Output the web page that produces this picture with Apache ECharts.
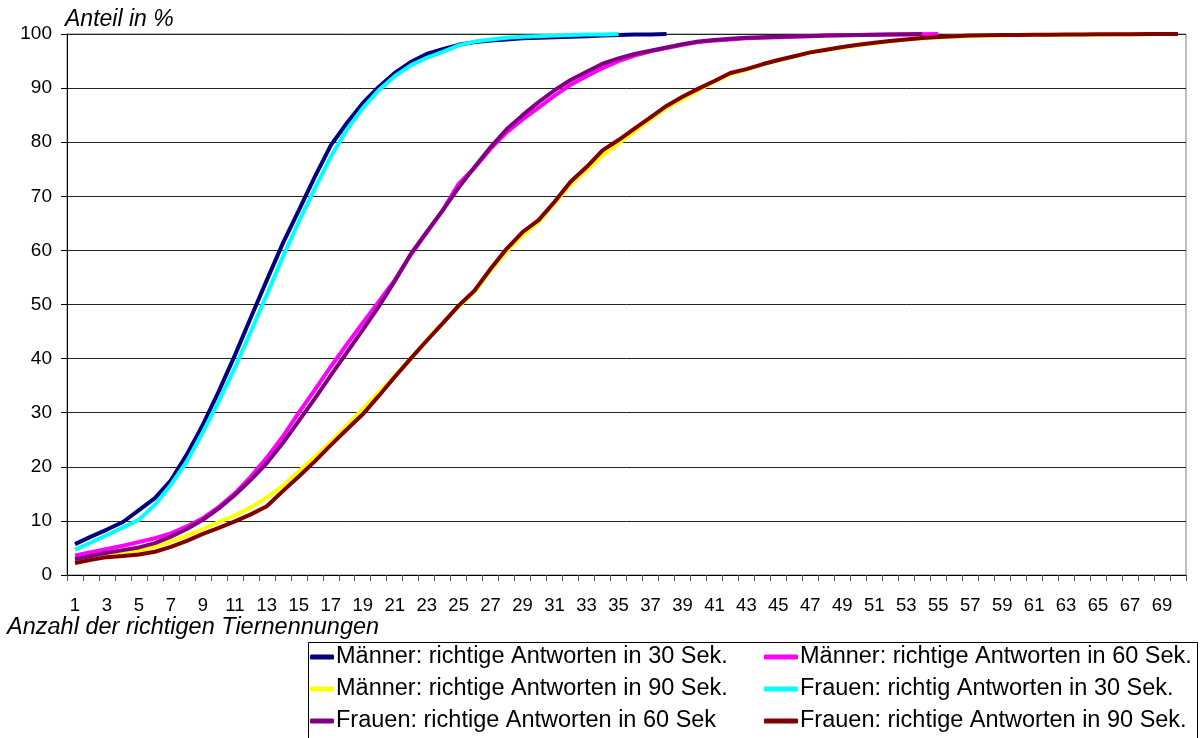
<!DOCTYPE html>
<html>
<head>
<meta charset="utf-8">
<script src="https://cdn.jsdelivr.net/npm/echarts/dist/echarts.min.js"></script>
<style>
html,body{margin:0;padding:0;background:#fff;}
#chart{width:1202px;height:738px;}
</style>
</head>
<body>
<div id="chart"></div>
<script>
var categories = [];
for (var c = 1; c <= 70; c++) categories.push(String(c));

var yTicks = { min: 0, max: 100, interval: 10 };

var seriesNames = [
  'Männer: richtige Antworten in 30 Sek.',
  'Männer: richtige Antworten in 60 Sek.',
  'Männer: richtige Antworten in 90 Sek.',
  'Frauen: richtig Antworten in 30 Sek.',
  'Frauen: richtige Antworten in 60 Sek',
  'Frauen: richtige Antworten in 90 Sek.'
];

var maenner30 = [5.7,7.1,8.4,9.8,12.0,14.2,17.5,22.3,27.8,34.0,40.6,47.6,54.5,61.3,67.4,73.6,79.4,83.5,87.2,90.2,92.8,94.8,96.3,97.2,98.0,98.5,98.8,99.0,99.2,99.3,99.4,99.5,99.6,99.7,99.8,99.9,99.9,100];
var maenner60 = [3.6,4.2,4.8,5.4,6.1,6.8,7.7,9.0,10.5,12.6,15.1,18.2,21.7,25.6,30.0,34.2,38.5,42.6,46.6,50.5,54.5,59.2,63.3,67.4,72.3,75.3,78.8,81.8,84.2,86.4,88.6,90.6,92.2,93.7,95.0,96.0,96.8,97.4,98.0,98.5,98.8,99.0,99.2,99.3,99.4,99.5,99.6,99.7,99.75,99.8,99.85,99.9,99.9,99.95,100];
var maenner90 = [2.6,3.2,3.7,4.1,4.5,5.2,6.2,7.3,8.5,9.8,11.0,12.5,14.3,16.5,19.2,21.8,24.6,27.6,30.7,33.7,36.8,40.0,43.4,46.6,49.6,52.4,56.3,59.8,62.8,65.3,68.7,72.2,74.8,77.6,79.8,82.0,84.2,86.3,88.0,89.6,91.2,92.6,93.4,94.4,95.1,95.9,96.6,97.1,97.5,97.9,98.3,98.7,99.0,99.2,99.4,99.55,99.65,99.7,99.75,99.8,99.82,99.85,99.87,99.9,99.92,99.94,99.96,99.97,99.99,100];
var frauen30 = [4.7,6.0,7.4,8.8,10.2,13.0,16.7,21.0,26.4,32.2,38.3,45.0,51.8,58.8,65.3,71.4,77.3,82.3,86.3,89.6,92.2,94.2,95.6,96.7,97.9,98.6,99.0,99.3,99.5,99.6,99.7,99.8,99.9,99.9,100];
var frauen60 = [2.9,3.5,4.1,4.6,5.1,5.9,7.1,8.5,10.2,12.3,14.8,17.6,20.7,24.4,28.5,32.6,36.9,41.1,45.3,49.6,54.3,59.3,63.4,67.4,71.6,75.4,79.1,82.4,85.0,87.4,89.6,91.5,93.0,94.5,95.5,96.3,96.9,97.5,98.1,98.6,98.9,99.1,99.3,99.4,99.5,99.6,99.65,99.7,99.75,99.8,99.85,99.9,99.95,100];
var frauen90 = [2.2,2.8,3.3,3.5,3.8,4.3,5.2,6.3,7.6,8.7,9.9,11.2,12.7,15.5,18.2,21.0,24.0,26.9,29.7,33.1,36.6,40.0,43.3,46.5,49.8,52.6,56.6,60.3,63.4,65.6,69.0,72.7,75.4,78.5,80.4,82.5,84.6,86.7,88.4,89.9,91.3,92.8,93.5,94.4,95.2,95.9,96.6,97.1,97.6,98.0,98.4,98.7,99.0,99.25,99.45,99.6,99.7,99.75,99.8,99.83,99.86,99.88,99.9,99.92,99.94,99.96,99.97,99.98,99.99,100];

var seriesData = [maenner30, maenner60, maenner90, frauen30, frauen60, frauen90];
var colors = ['#000080', '#FF00FF', '#FFFF00', '#00FFFF', '#800080', '#800000'];

var FONT = '"Liberation Sans", Arial, sans-serif';

var chart = echarts.init(document.getElementById('chart'), null, { renderer: 'canvas' });

var series = seriesNames.map(function (n, k) {
  return {
    name: n,
    type: 'line',
    data: seriesData[k],
    showSymbol: false,
    symbol: 'none',
    smooth: false,
    lineStyle: { color: colors[k], width: 4 },
    itemStyle: { color: colors[k] },
    animation: false,
    z: 2 + k
  };
});

var legendPos = [
  { left: 310, top: 645, w: 24 }, { left: 764, top: 645, w: 34 },
  { left: 310, top: 677, w: 24 }, { left: 764, top: 677, w: 34 },
  { left: 310, top: 709, w: 24 }, { left: 764, top: 709, w: 34 }
];
var legends = seriesNames.map(function (n, k) {
  return {
    data: [n],
    left: legendPos[k].left,
    top: legendPos[k].top,
    padding: 0,
    icon: 'roundRect',
    itemWidth: legendPos[k].w,
    itemHeight: 5,
    itemGap: 0,
    textStyle: { fontFamily: FONT, fontSize: 23.5, color: '#000', padding: [0, 0, 0, -3], lineHeight: 24 },
    selectedMode: false
  };
});

var option = {
  backgroundColor: '#fff',
  animation: false,
  color: colors,
  grid: {
    left: 67, top: 34, width: 1119, height: 541,
    show: true, borderColor: '#808080', borderWidth: 1, backgroundColor: 'transparent',
    containLabel: false
  },
  title: {
    text: 'Anzahl der richtigen Tiernennungen',
    left: 7, top: 616, padding: 0,
    textStyle: { fontFamily: FONT, fontSize: 23.5, fontStyle: 'italic', fontWeight: 'normal', color: '#000' }
  },
  legend: legends,
  xAxis: {
    type: 'category',
    data: categories,
    boundaryGap: true,
    axisLine: { show: true, lineStyle: { color: '#000', width: 1 } },
    axisTick: { show: true, interval: 0, length: 6, lineStyle: { color: '#555' } },
    axisLabel: { interval: 1, margin: 21, fontFamily: FONT, fontSize: 18.5, color: '#000' },
    splitLine: { show: false }
  },
  yAxis: {
    type: 'value',
    min: yTicks.min, max: yTicks.max, interval: yTicks.interval,
    name: 'Anteil in %',
    nameLocation: 'end',
    nameGap: 3,
    nameTextStyle: { fontFamily: FONT, fontSize: 23, fontStyle: 'italic', color: '#000', align: 'left', verticalAlign: 'bottom', padding: [0, 0, 0, -2] },
    axisLine: { show: true, lineStyle: { color: '#000', width: 1 } },
    axisTick: { show: true, length: 6, lineStyle: { color: '#000' } },
    axisLabel: { margin: 15, fontFamily: FONT, fontSize: 19, color: '#000' },
    splitLine: { show: true, lineStyle: { color: '#222', width: 1 } }
  },
  graphic: [{
    type: 'rect',
    shape: { x: 308.5, y: 642.5, width: 889, height: 100 },
    style: { fill: 'none', stroke: '#000', lineWidth: 1 },
    silent: true,
    z: 0
  }],
  series: series
};
chart.setOption(option);
</script>
</body>
</html>
